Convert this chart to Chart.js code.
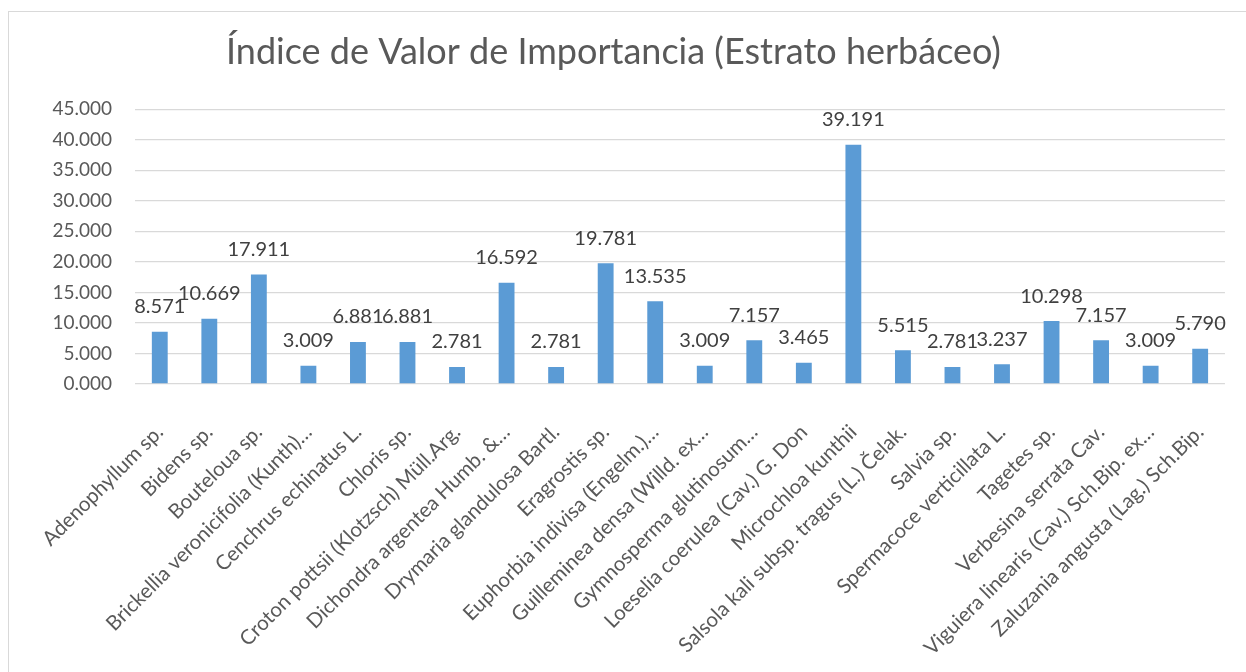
<!DOCTYPE html>
<html lang="es">
<head>
<meta charset="utf-8">
<title>Índice de Valor de Importancia</title>
<script src="https://cdn.jsdelivr.net/npm/chart.js@4.4.1/dist/chart.umd.min.js"></script>
<style>
    html, body { margin: 0; padding: 0; background: #fff; overflow: hidden; }
    #marco {
        position: absolute; left: 8px; top: 11px;
        width: 1260px; height: 700px;
        border: 1px solid #d9d9d9;
    }
    #grafico { position: absolute; left: 0; top: 0; }
</style>
</head>
<body>
<div id="marco"></div>
<canvas id="grafico" width="1246" height="672"></canvas>
<script>
// especies del estrato herbáceo
const especies = [
    'Adenophyllum sp.',
    'Bidens sp.',
    'Bouteloua sp.',
    'Brickellia veronicifolia (Kunth)…',
    'Cenchrus echinatus L.',
    'Chloris sp.',
    'Croton pottsii (Klotzsch) Müll.Arg.',
    'Dichondra argentea Humb. &…',
    'Drymaria glandulosa Bartl.',
    'Eragrostis sp.',
    'Euphorbia indivisa (Engelm.)…',
    'Guilleminea densa (Willd. ex…',
    'Gymnosperma glutinosum…',
    'Loeselia coerulea (Cav.) G. Don',
    'Microchloa kunthii',
    'Salsola kali subsp. tragus (L.) Čelak.',
    'Salvia sp.',
    'Spermacoce verticillata L.',
    'Tagetes sp.',
    'Verbesina serrata Cav.',
    'Viguiera linearis (Cav.) Sch.Bip. ex…',
    'Zaluzania angusta (Lag.) Sch.Bip.'
];

// IVI por especie
const ivi = [8.571, 10.669, 17.911, 3.009, 6.881, 6.881, 2.781, 16.592, 2.781, 19.781, 13.535,
             3.009, 7.157, 3.465, 39.191, 5.515, 2.781, 3.237, 10.298, 7.157, 3.009, 5.790];

// eje vertical
const ejeMin = 0;
const ejeMax = 45;
const ejePaso = 5;

const fuente = "Lato, 'Open Sans', sans-serif";

// etiquetas de valor encima de cada barra
const etiquetasValor = {
    id: 'etiquetasValor',
    afterDatasetsDraw(chart) {
        const ctx = chart.ctx;
        const meta = chart.getDatasetMeta(0);
        ctx.save();
        ctx.font = '20px ' + fuente;
        ctx.fillStyle = '#404040';
        ctx.textAlign = 'center';
        ctx.textBaseline = 'middle';
        meta.data.forEach((barra, i) => {
            const v = chart.data.datasets[0].data[i];
            ctx.fillText(v.toFixed(3), barra.x, barra.y - 25);
        });
        ctx.restore();
    }
};

const ctx = document.getElementById('grafico').getContext('2d');

new Chart(ctx, {
    type: 'bar',
    data: {
        labels: especies,
        datasets: [{
            label: 'IVI',
            data: ivi,
            backgroundColor: '#5b9bd5',
            borderWidth: 0,
            categoryPercentage: 1,
            barPercentage: 0.32
        }]
    },
    options: {
        responsive: false,
        animation: false,
        layout: { padding: { left: 0, right: 19, top: 0, bottom: 0 } },
        plugins: {
            legend: { display: false },
            tooltip: { enabled: false },
            title: {
                display: true,
                text: 'Índice de Valor de Importancia (Estrato herbáceo)',
                color: '#595959',
                font: { family: fuente, size: 36, weight: 'normal' },
                padding: { top: 31, bottom: 35 }
            }
        },
        scales: {
            x: {
                grid: { display: false },
                border: { display: false },
                ticks: {
                    autoSkip: false,
                    maxRotation: 45,
                    minRotation: 45,
                    padding: 28,
                    color: '#595959',
                    font: { family: fuente, size: 20.5 }
                },
                afterFit(escala) { escala.height = 288; }
            },
            y: {
                min: ejeMin,
                max: ejeMax,
                border: { display: false },
                grid: { color: '#d9d9d9', lineWidth: 1.3, drawTicks: false },
                ticks: {
                    stepSize: ejePaso,
                    padding: 23,
                    color: '#595959',
                    font: { family: fuente, size: 19 },
                    callback: v => v.toFixed(3)
                },
                afterFit(escala) { escala.width = 135; }
            }
        }
    },
    plugins: [etiquetasValor]
});
</script>
</body>
</html>
